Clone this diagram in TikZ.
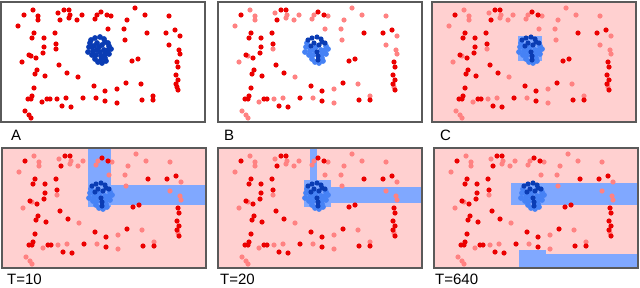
\documentclass[tikz,border=0pt]{standalone}
\usepackage{fontspec}
\setmainfont{Liberation Sans}
\usepackage{xcolor}
\usepackage{tikz}
\definecolor{dotred}{RGB}{235,0,0}
\definecolor{dotpink}{RGB}{255,130,130}
\definecolor{bgpink}{RGB}{255,208,208}
\definecolor{regblue}{RGB}{128,168,255}
\definecolor{midblue}{RGB}{70,130,245}
\definecolor{darkblue}{RGB}{10,60,180}
\definecolor{framegray}{RGB}{90,90,90}

% dot positions, local to a panel (x right, y down)
\def\reddots{23/13, 63/8, 68/8, 59/18, 100/10, 106/13, 165/31, 174/28, 146/31,
  54/31, 33/31, 31/36, 43/36, 43/45, 42/51, 55/42, 28/53, 35/56, 36/68, 34/72,
  44/74, 58/63, 66/71, 176/60, 177/65, 175/73, 177/78, 175/82, 177/88, 131/59,
  137/57, 33/86, 31/94, 27/97, 30/97, 46/97, 49/97, 61/104, 70/105, 82/96,
  93/84, 104/89, 104/99, 125/81, 141/98, 152/98}
\def\pinkdots{32/8, 37/14, 37/18, 17/24, 57/11, 69/13, 68/16, 76/18, 81/13,
  96/13, 94/17, 110/14, 134/6, 144/13, 126/18, 107/27, 123/27, 168/14, 179/34,
  124/38, 55/47, 30/54, 21/60, 77/75, 168/43, 178/48, 179/52, 176/85, 41/100,
  56/97, 65/96, 95/96, 116/87, 116/101, 140/82, 152/94, 24/109, 28/113, 30/116}
\def\clusterdark{90/38, 94/36, 99/35, 103/37, 107/41, 96/41, 101/43, 99/50,
  100/54, 100/58, 93/44, 104/40}
\def\clustermid{88/45, 87/50, 91/53, 94/57, 97/60, 104/56, 108/52, 110/47,
  108/44, 96/48, 103/48, 92/49, 105/59, 89/41, 98/45, 104/52, 95/53, 91/45,
  101/61, 107/48}

\begin{document}
\begin{tikzpicture}[
  x=1pt, y=-1pt,
  frame/.style={draw=framegray, line width=1.2pt},
  bg/.style={fill=bgpink},
  region/.style={fill=regblue},
  lbl/.style={anchor=base west, inner sep=0pt, font=\fontsize{15}{15}\selectfont},
]
\useasboundingbox (0,0) rectangle (640,287);

% Panel A
\begin{scope}[shift={(1,2)}]
  \coordinate (pA) at (0,0);
  \foreach \x/\y in \pinkdots { \fill[dotred] (\x,\y) circle (2.6pt); }
  \foreach \x/\y in \reddots { \fill[dotred] (\x,\y) circle (2.6pt); }
  \foreach \x/\y in \clustermid { \fill[darkblue] (\x,\y) circle (2.9pt); }
  \foreach \x/\y in \clusterdark { \fill[darkblue] (\x,\y) circle (2.9pt); }
  \draw[frame] (0,0) rectangle (204,120);
\end{scope}
\node[lbl] (labA) at (11,140) {A};

% Panel B
\begin{scope}[shift={(218,2)}]
  \coordinate (pB) at (0,0);
  \foreach \x/\y in \pinkdots { \fill[dotpink] (\x,\y) circle (2.6pt); }
  \foreach \x/\y in \reddots { \fill[dotred] (\x,\y) circle (2.6pt); }
  \foreach \x/\y in \clustermid { \fill[midblue] (\x,\y) circle (2.9pt); }
  \foreach \x/\y in \clusterdark { \fill[darkblue] (\x,\y) circle (2.6pt); }
  \draw[frame] (0,0) rectangle (204,120);
\end{scope}
\node[lbl] (labB) at (224,140) {B};

% Panel C
\begin{scope}[shift={(432,2)}]
  \coordinate (pC) at (0,0);
  \fill[bg] (0,0) rectangle (204,120);
  \fill[region] (86,34) rectangle (110,59);
  \foreach \x/\y in \pinkdots { \fill[dotpink] (\x,\y) circle (2.6pt); }
  \foreach \x/\y in \reddots { \fill[dotred] (\x,\y) circle (2.6pt); }
  \foreach \x/\y in \clustermid { \fill[midblue] (\x,\y) circle (2.9pt); }
  \foreach \x/\y in \clusterdark { \fill[darkblue] (\x,\y) circle (2.6pt); }
  \draw[frame] (0,0) rectangle (204,120);
\end{scope}
\node[lbl] (labC) at (440,140) {C};

% Panel T=10
\begin{scope}[shift={(2,148)}]
  \coordinate (pT10) at (0,0);
  \fill[bg] (0,0) rectangle (204,120);
  \fill[region] (86,0) rectangle (109,59);
  \fill[region] (109,37) rectangle (204,57);
  \foreach \x/\y in \pinkdots { \fill[dotpink] (\x,\y) circle (2.6pt); }
  \foreach \x/\y in \reddots { \fill[dotred] (\x,\y) circle (2.6pt); }
  \foreach \x/\y in \clustermid { \fill[midblue] (\x,\y) circle (2.9pt); }
  \foreach \x/\y in \clusterdark { \fill[darkblue] (\x,\y) circle (2.6pt); }
  \draw[frame] (0,0) rectangle (204,120);
\end{scope}
\node[lbl] (labT10) at (7,284.5) {T=10};

% Panel T=20
\begin{scope}[shift={(218,148)}]
  \coordinate (pT20) at (0,0);
  \fill[bg] (0,0) rectangle (204,120);
  \fill[region] (92,0) rectangle (99,32);
  \fill[region] (86,32) rectangle (113,59);
  \fill[region] (113,39) rectangle (204,55);
  \foreach \x/\y in \pinkdots { \fill[dotpink] (\x,\y) circle (2.6pt); }
  \foreach \x/\y in \reddots { \fill[dotred] (\x,\y) circle (2.6pt); }
  \foreach \x/\y in \clustermid { \fill[midblue] (\x,\y) circle (2.9pt); }
  \foreach \x/\y in \clusterdark { \fill[darkblue] (\x,\y) circle (2.6pt); }
  \draw[frame] (0,0) rectangle (204,120);
\end{scope}
\node[lbl] (labT20) at (220,284.5) {T=20};

% Panel T=640
\begin{scope}[shift={(434,148)}]
  \coordinate (pT640) at (0,0);
  \fill[bg] (0,0) rectangle (204,120);
  \fill[region] (77,35) rectangle (204,57);
  \fill[region] (85,102) rectangle (112,120);
  \fill[region] (112,106) rectangle (204,120);
  \foreach \x/\y in \pinkdots { \fill[dotpink] (\x,\y) circle (2.6pt); }
  \foreach \x/\y in \reddots { \fill[dotred] (\x,\y) circle (2.6pt); }
  \foreach \x/\y in \clustermid { \fill[midblue] (\x,\y) circle (2.9pt); }
  \foreach \x/\y in \clusterdark { \fill[darkblue] (\x,\y) circle (2.6pt); }
  \draw[frame] (0,0) rectangle (204,120);
\end{scope}
\node[lbl] (labT640) at (435,284.5) {T=640};
\end{tikzpicture}
\end{document}
